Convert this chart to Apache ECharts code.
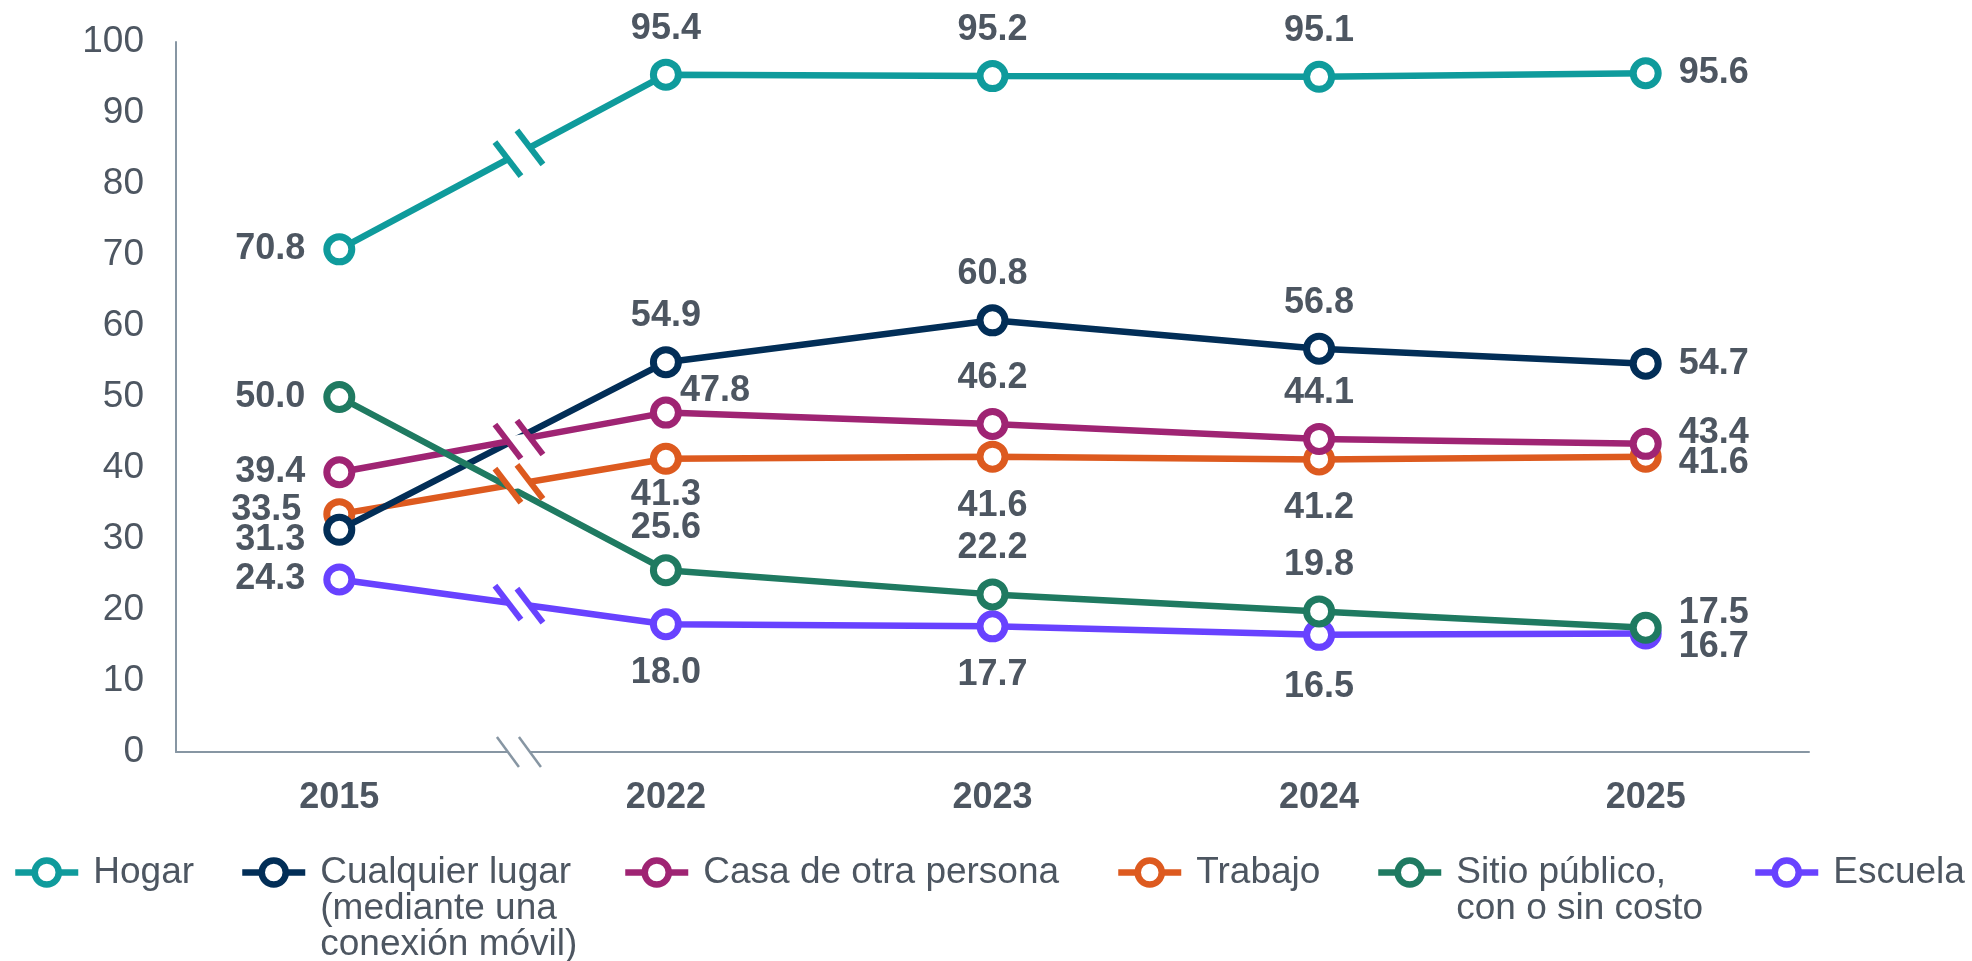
<!DOCTYPE html>
<html>
<head>
<meta charset="utf-8">
<title>Lugar de acceso a internet</title>
<script src="https://cdn.jsdelivr.net/npm/echarts@6/dist/echarts.min.js"></script>
<style>
  html, body { margin: 0; padding: 0; background: #fff; }
  #chart { width: 1972px; height: 961px; }
</style>
</head>
<body>
<div id="chart"></div>
<script>
// categories and values
const years = ['2015', '2022', '2023', '2024', '2025']
const yMin = 0
const yMax = 100
const yStep = 10

const hogar = [70.8, 95.4, 95.2, 95.1, 95.6]
const cualquierLugar = [31.3, 54.9, 60.8, 56.8, 54.7]
const casaOtra = [39.4, 47.8, 46.2, 44.1, 43.4]
const trabajo = [33.5, 41.3, 41.6, 41.2, 41.6]
const sitioPublico = [50.0, 25.6, 22.2, 19.8, 17.5]
const escuela = [24.3, 18.0, 17.7, 16.5, 16.7]

const seriesNames = [
  'Hogar',
  'Cualquier lugar\n(mediante una\nconexión móvil)',
  'Casa de otra persona',
  'Trabajo',
  'Sitio público,\ncon o sin costo',
  'Escuela'
]
const seriesValues = [hogar, cualquierLugar, casaOtra, trabajo, sitioPublico, escuela]
const colors = ['#0f9b9c', '#022e57', '#9f2473', '#dd5a1f', '#1f7a61', '#6842ff']
const seriesZ = [7, 4, 5, 3, 6, 2]
const hasBreak = [true, false, true, true, false, true]

const TEXT = '#4d5661'
const AXIS = '#8796a3'
const FONT = '"Liberation Sans", Arial, Helvetica, sans-serif'
const LH = 36
const LINE_W = 6.5

const lab = (pos, dx, dy) => {
  const dist = { left: 18, right: 17, top: 12, bottom: 15 }[pos]
  return { position: pos, distance: dist, offset: [dx || 0, dy || 0] }
}

// where each value label sits
const labelPlacement = [
  [lab('left'), lab('top'), lab('top'), lab('top'), lab('right')],
  [lab('left', 0, 10), lab('top'), lab('top'), lab('top'), lab('right')],
  [lab('left'), lab('right', -19, -22), lab('top'), lab('top'), lab('right', 0, -11)],
  [lab('left', -4, -4), lab('bottom', 0, -13), lab('bottom'), lab('bottom'), lab('right', 0, 6)],
  [lab('left'), lab('top', 0, 4), lab('top'), lab('top'), lab('right', 0, -15)],
  [lab('left'), lab('bottom'), lab('bottom'), lab('bottom', 0, 3), lab('right', 0, 14)]
]

const legendLeft = [12, 239, 622, 1115, 1375, 1752]
const legendTop = 854

const chart = echarts.init(document.getElementById('chart'))

const series = seriesNames.map((name, i) => ({
  name: name,
  type: 'line',
  data: seriesValues[i].map((v, j) => ({ value: v, label: labelPlacement[i][j] })),
  symbol: 'circle',
  symbolSize: 25,
  lineStyle: { width: LINE_W, color: colors[i] },
  itemStyle: { color: '#fff', borderColor: colors[i], borderWidth: 7 },
  label: {
    show: true,
    formatter: p => p.value.toFixed(1),
    fontSize: 36,
    fontWeight: 'bold',
    color: TEXT,
    fontFamily: FONT
  },
  emphasis: { disabled: true },
  z: seriesZ[i]
}))

// multi-line names: empty lines on top keep the first line level with the icon
const legends = seriesNames.map((name, i) => {
  const lines = name.split('\n').length
  return {
    data: [name],
    left: legendLeft[i],
    top: legendTop - (lines - 1) * LH,
    padding: 0,
    itemWidth: 63,
    itemHeight: 30,
    selectedMode: false,
    formatter: n => '\n'.repeat(lines - 1) + n,
    itemStyle: { color: '#fff', borderColor: colors[i], borderWidth: 6.5 },
    lineStyle: { width: LINE_W, color: colors[i] },
    textStyle: {
      fontSize: 37,
      lineHeight: LH,
      color: TEXT,
      fontFamily: FONT,
      padding: [0, 0, 0, 10]
    }
  }
})

const option = {
  animation: false,
  backgroundColor: '#fff',
  grid: { left: 176, right: 163, top: 42, bottom: 209 },
  legend: legends,
  xAxis: {
    type: 'category',
    data: years,
    boundaryGap: true,
    axisLine: { lineStyle: { color: AXIS, width: 2 } },
    axisTick: { show: false },
    axisLabel: { color: TEXT, fontSize: 36, fontWeight: 'bold', fontFamily: FONT, margin: 28 }
  },
  yAxis: {
    type: 'value',
    min: yMin,
    max: yMax,
    interval: yStep,
    axisLine: { show: true, lineStyle: { color: AXIS, width: 2 } },
    axisTick: { show: false },
    splitLine: { show: false },
    axisLabel: { color: TEXT, fontSize: 37, fontFamily: FONT, margin: 32 }
  },
  series: series
}

chart.setOption(option)

// break marks between 2015 and 2022
const BREAK_T = 0.55
const HALF_GAP = 11
const SLASH = [13, 17]

const breakMarks = (p0, p1, color, width, slashH) => {
  const dx = p1[0] - p0[0]
  const dy = p1[1] - p0[1]
  const len = Math.sqrt(dx * dx + dy * dy)
  const ux = dx / len
  const uy = dy / len
  const cx = p0[0] + dx * BREAK_T
  const cy = p0[1] + dy * BREAK_T
  const s = HALF_GAP / ux
  const a = [cx - s * ux, cy - s * uy]
  const b = [cx + s * ux, cy + s * uy]
  const sh = slashH || SLASH
  const out = [{
    type: 'line',
    z: 100,
    shape: { x1: a[0], y1: a[1], x2: b[0], y2: b[1] },
    style: { stroke: '#fff', lineWidth: width + 3 }
  }]
  ;[a, b].forEach(p => {
    out.push({
      type: 'line',
      z: 101,
      shape: { x1: p[0] - sh[0], y1: p[1] - sh[1], x2: p[0] + sh[0], y2: p[1] + sh[1] },
      style: { stroke: color, lineWidth: width }
    })
  })
  return out
}

const graphics = []
const axisY = chart.convertToPixel({ yAxisIndex: 0 }, yMin)
const x0 = chart.convertToPixel({ xAxisIndex: 0 }, 0)
const x1 = chart.convertToPixel({ xAxisIndex: 0 }, 1)
graphics.push(...breakMarks([x0, axisY], [x1, axisY], AXIS, 2.5, [11, 15]))

seriesValues.forEach((vals, i) => {
  if (!hasBreak[i]) return
  const p0 = chart.convertToPixel({ seriesIndex: i }, [0, vals[0]])
  const p1 = chart.convertToPixel({ seriesIndex: i }, [1, vals[1]])
  graphics.push(...breakMarks(p0, p1, colors[i], 6))
})

chart.setOption({ graphic: graphics })

window.addEventListener('resize', () => chart.resize())
</script>
</body>
</html>
